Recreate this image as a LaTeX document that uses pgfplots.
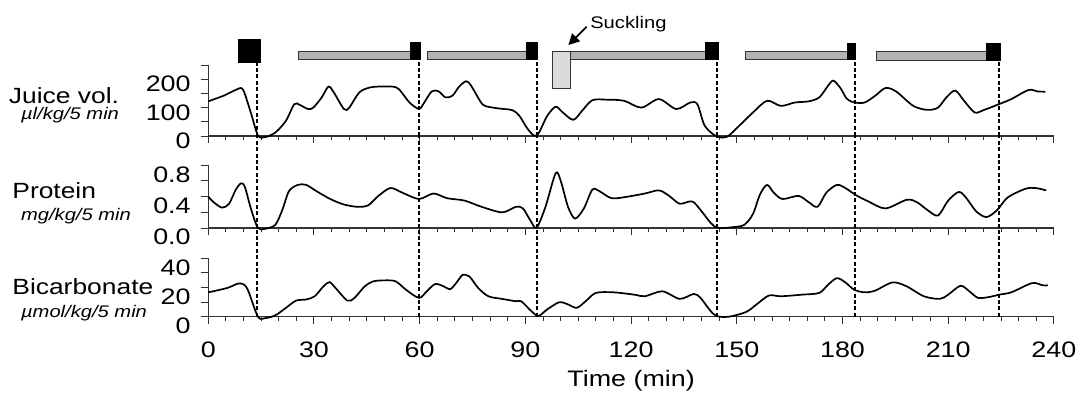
\documentclass[border=0pt]{standalone}
\usepackage{pgfplots}
\pgfplotsset{compat=1.18}
\usepackage{fontspec}
\setmainfont{Liberation Sans}[FakeStretch=1.2]
\usetikzlibrary{arrows.meta}
\definecolor{barfill}{gray}{0.70}
\definecolor{suckfill}{gray}{0.86}
\definecolor{axcol}{gray}{0.2}
\pgfplotsset{
 panel/.style={
  scale only axis, width=422.8pt, xmin=0, xmax=240, clip=false,
  axis x line*=bottom, axis y line*=left,
  xtick={0,30,...,240}, minor x tick num=5,
  tick align=outside, major tick length=3.5pt, minor tick length=2pt,
  axis line style={line width=0.6pt, axcol},
  tick style={line width=0.5pt, axcol},
  tick label style={font=\fontsize{11.2}{13}\selectfont},
  /pgf/number format/assume math mode=true,
 },
 curve/.style={black, line width=0.85pt, smooth, tension=0.5, no markers},
 vdash/.style={black, line width=0.8pt, dash pattern=on 2pt off 1.2pt},
 gbar/.style={fill=barfill, draw=axcol, line width=0.5pt},
 bbar/.style={fill=black, draw=black, line width=0.5pt},
}
\begin{document}
\begin{tikzpicture}
% ---------------- Juice volume ----------------
\begin{axis}[panel, at={(0pt,-68pt)}, anchor=south west, height=35.5pt,
  ymin=0, ymax=250, ytick={0,50,...,250}, yticklabels={0,,100,,200,},
  yticklabel style={xshift=-1.8pt, yshift=-2.5pt}, xticklabels={}]
\addplot[vdash] coordinates {(13.9,0) (13.9,260)};
\addplot[vdash] coordinates {(59.8,0) (59.8,268)};
\addplot[vdash] coordinates {(93.3,0) (93.3,268)};
\addplot[vdash] coordinates {(144.3,0) (144.3,268)};
\addplot[vdash] coordinates {(183.6,0) (183.6,268)};
\addplot[vdash] coordinates {(224.4,0) (224.4,265)};
% top bars
\addplot[bbar] coordinates {(8.5,259.5) (14.7,259.5) (14.7,340.5) (8.5,340.5)} -- cycle;
\addplot[gbar] coordinates {(25.7,268) (57.4,268) (57.4,299) (25.7,299)} -- cycle;
\addplot[bbar] coordinates {(57.4,268) (60.3,268) (60.3,331) (57.4,331)} -- cycle;
\addplot[gbar] coordinates {(62.3,268) (90.3,268) (90.3,299) (62.3,299)} -- cycle;
\addplot[bbar] coordinates {(90.3,268) (93.4,268) (93.4,331) (90.3,331)} -- cycle;
\addplot[fill=suckfill, draw=axcol, line width=0.5pt] coordinates {(97.6,168) (102.7,168) (102.7,299) (97.6,299)} -- cycle;
\addplot[gbar] coordinates {(102.7,268) (141.2,268) (141.2,299) (102.7,299)} -- cycle;
\addplot[bbar] coordinates {(141.2,268) (144.8,268) (144.8,331) (141.2,331)} -- cycle;
\addplot[gbar] coordinates {(152.6,268) (181.4,268) (181.4,299) (152.6,299)} -- cycle;
\addplot[bbar] coordinates {(181.4,268) (183.8,268) (183.8,326) (181.4,326)} -- cycle;
\addplot[gbar] coordinates {(189.7,265) (220.9,265) (220.9,297) (189.7,297)} -- cycle;
\addplot[bbar] coordinates {(220.9,265) (224.9,265) (224.9,324) (220.9,324)} -- cycle;
\node[anchor=base west, inner sep=0pt, font=\fontsize{8.4}{10}\selectfont] at (axis cs:108.3,378.5) {Suckling};
\draw[-{Triangle[length=5.5pt,width=5.5pt]}, line width=0.9pt] (axis cs:107.4,384.8) -- (axis cs:102.2,320.4);
\addplot[curve] coordinates {
(0,122) (2.2,132) (4.4,142) (6.5,155) (8.3,165) (9.3,169) (10.2,154) (12.2,77)
(14.1,2) (16.1,-4) (19,12) (22,53) (24.4,112) (25.9,110) (28.3,95) (29.8,100)
(32.2,136) (34.1,174) (35.6,154) (38.5,95) (40,100) (42.9,154) (45.9,171)
(48.3,174) (52.2,174) (54.1,165) (57.1,118) (59.8,95) (61,112) (63.4,157)
(65.4,157) (67.3,136) (69.3,142) (71.2,174) (73.2,193) (74.6,177) (77.1,124)
(78.5,106) (82.4,97) (86.3,91) (88.3,71) (90.7,24) (93.2,1) (96.2,71)
(98.6,103) (100.6,83) (103.6,57) (106.1,89) (109.0,126) (113.0,128) (118,124)
(122.9,100) (127.9,130) (132.8,95) (136.8,118) (138.8,112) (140.7,41) (142.7,12)
(144.7,-3) (147.2,-3) (150.6,35) (154.6,83) (158.6,124) (162.5,106) (166.5,118)
(170.4,122) (173.4,136) (175.9,177) (177.4,195) (179.4,169) (181.3,130) (183.5,118)
(186.3,118) (189.3,142) (192.2,169) (195.2,157) (200.1,106) (204.1,92) (207.1,100)
(209.5,136) (212.0,160) (214.5,124) (217.5,83) (220,91) (224.4,112) (227.9,130)
(232.8,162) (235.3,157) (237.6,156)};
\end{axis}
% ---------------- Protein ----------------
\begin{axis}[panel, at={(0pt,-114pt)}, anchor=south west, height=31.35pt,
  ymin=0, ymax=0.8, ytick={0,0.2,0.4,0.6,0.8}, yticklabels={0.0,,0.4,,0.8},
  yticklabel style={xshift=-1.8pt, yshift=-4.5pt}, xticklabels={}]
\addplot[vdash] coordinates {(13.9,0) (13.9,1.174)};
\addplot[vdash] coordinates {(59.8,0) (59.8,1.174)};
\addplot[vdash] coordinates {(93.3,0) (93.3,1.174)};
\addplot[vdash] coordinates {(144.3,0) (144.3,1.174)};
\addplot[vdash] coordinates {(183.6,0) (183.6,1.174)};
\addplot[vdash] coordinates {(224.4,0) (224.4,1.174)};
\addplot[curve] coordinates {
(0,0.40) (1.5,0.33) (3.9,0.26) (5.9,0.31) (7.8,0.49) (9.3,0.57) (10.4,0.52)
(12.2,0.23) (14.1,0) (16.1,-0.01) (19,0.04) (21,0.23) (22.9,0.47) (25.4,0.55)
(27.8,0.55) (30.7,0.47) (34.6,0.37) (38.5,0.30) (42.4,0.27) (45.4,0.29) (48.3,0.41)
(51.7,0.51) (55.1,0.45) (59.8,0.37) (63.9,0.44) (67.8,0.38) (72.7,0.35) (77.6,0.27)
(83.4,0.20) (87.3,0.27) (89.3,0.25) (91.5,0.09) (93.2,0.005) (95.7,0.27) (98.6,0.70)
(100.1,0.59) (102.1,0.27) (104.1,0.12) (106.6,0.25) (109.0,0.49) (111.0,0.47)
(114.5,0.38) (119,0.40) (123.9,0.44) (127.9,0.48) (130.8,0.41) (133.8,0.31)
(137.3,0.34) (139.7,0.23) (142.7,0.06) (144.7,0) (148.7,0.01) (152.1,0.04)
(154.6,0.18) (156.6,0.43) (158.6,0.55) (160.5,0.45) (163,0.37) (167.5,0.41)
(170.4,0.33) (172.9,0.27) (175.4,0.45) (178.4,0.55) (180.8,0.51) (183.8,0.42)
(187.3,0.34) (192.2,0.25) (198.2,0.36) (201.1,0.33) (204.1,0.23) (207.1,0.16)
(210,0.35) (213,0.46) (215,0.39) (218,0.21) (220.9,0.14) (223.9,0.23) (226.9,0.39)
(231.9,0.50) (234.8,0.51) (237.8,0.48)};
\end{axis}
% ---------------- Bicarbonate ----------------
\begin{axis}[panel, at={(0pt,-158.35pt)}, anchor=south west, height=29.2pt,
  ymin=0, ymax=40, ytick={0,10,...,40}, yticklabels={0,,20,,40},
  yticklabel style={xshift=-1.8pt, yshift=-4.5pt},
  xticklabel style={anchor=base, yshift=-17pt},
  xlabel={Time (min)},
  xlabel style={at={(axis description cs:0.5,0)}, anchor=base, yshift=-35pt,
    font=\fontsize{11.2}{13}\selectfont}]
\addplot[vdash] coordinates {(13.9,0) (13.9,61)};
\addplot[vdash] coordinates {(59.8,0) (59.8,61)};
\addplot[vdash] coordinates {(93.3,0) (93.3,61)};
\addplot[vdash] coordinates {(144.3,0) (144.3,61)};
\addplot[vdash] coordinates {(183.6,0) (183.6,61)};
\addplot[vdash] coordinates {(224.4,0) (224.4,61)};
\addplot[curve] coordinates {
(0,16.7) (5.4,19.7) (8.3,22.6) (9.8,22.4) (11.2,18.5) (14.1,0) (16.1,-1) (19,0.9)
(22,6) (24.9,11) (27.8,11.8) (30.2,14) (32.7,20.8) (34.4,23.7) (36.1,19.7)
(39.5,11) (41.5,12.9) (44.4,20.8) (46.8,24.2) (50.2,24.9) (53.2,24.2) (56.1,18.5)
(59.8,12.9) (62,17.4) (64.4,22.4) (66.8,20.8) (68.8,19) (71.2,25.8) (72.2,28.7)
(74.1,27.6) (76.6,19.7) (79.5,14) (83.4,12.2) (87.3,10.6) (88.8,10.6) (91.7,3.8)
(93.7,0.5) (96.2,5) (99.6,9.9) (102.1,8.4) (104.6,6.1) (107.1,10.6) (110.0,16.3)
(115,16.7) (120.9,15.1) (123.9,14) (128.9,17.4) (133.8,12.2) (137.8,15.6)
(139.7,12.9) (142.2,5) (144.2,0.5) (147.7,0) (152.6,3.2) (155.6,8.4) (159.1,14.5)
(162.5,14) (168.5,15.1) (173.4,16.3) (175.9,21.9) (178.4,26.4) (180.8,23.5)
(183.3,18.5) (186.3,16.7) (189.3,17.9) (194.2,23.5) (198.2,20.8) (203.1,14)
(207.6,12.2) (210,15.1) (213.5,21.2) (216,17.4) (218.5,12.9) (221.9,13.6)
(224.4,15.1) (227.9,16.7) (233.8,23) (236.8,21.5) (238.3,21.5)};
\end{axis}
% ---------------- left labels ----------------
\node[anchor=base west, inner sep=0pt, font=\fontsize{11}{12}\selectfont] at (-99.85pt,-51.5pt) {Juice vol.};
\node[anchor=base west, inner sep=0pt, font=\fontsize{8.4}{10}\selectfont\itshape] at (-93.8pt,-59.5pt) {µl/kg/5 min};
\node[anchor=base west, inner sep=0pt, font=\fontsize{11}{12}\selectfont] at (-98.15pt,-99pt) {Protein};
\node[anchor=base west, inner sep=0pt, font=\fontsize{8.4}{10}\selectfont\itshape] at (-93.8pt,-110.3pt) {mg/kg/5 min};
\node[anchor=base west, inner sep=0pt, font=\fontsize{11}{12}\selectfont] at (-98.15pt,-147pt) {Bicarbonate};
\node[anchor=base west, inner sep=0pt, font=\fontsize{8.4}{10}\selectfont\itshape] at (-93.8pt,-158.5pt) {µmol/kg/5 min};
\pgfresetboundingbox
\path[use as bounding box] (-104.15pt,-196pt) rectangle (434.35pt,0pt);
\end{tikzpicture}
\end{document}
